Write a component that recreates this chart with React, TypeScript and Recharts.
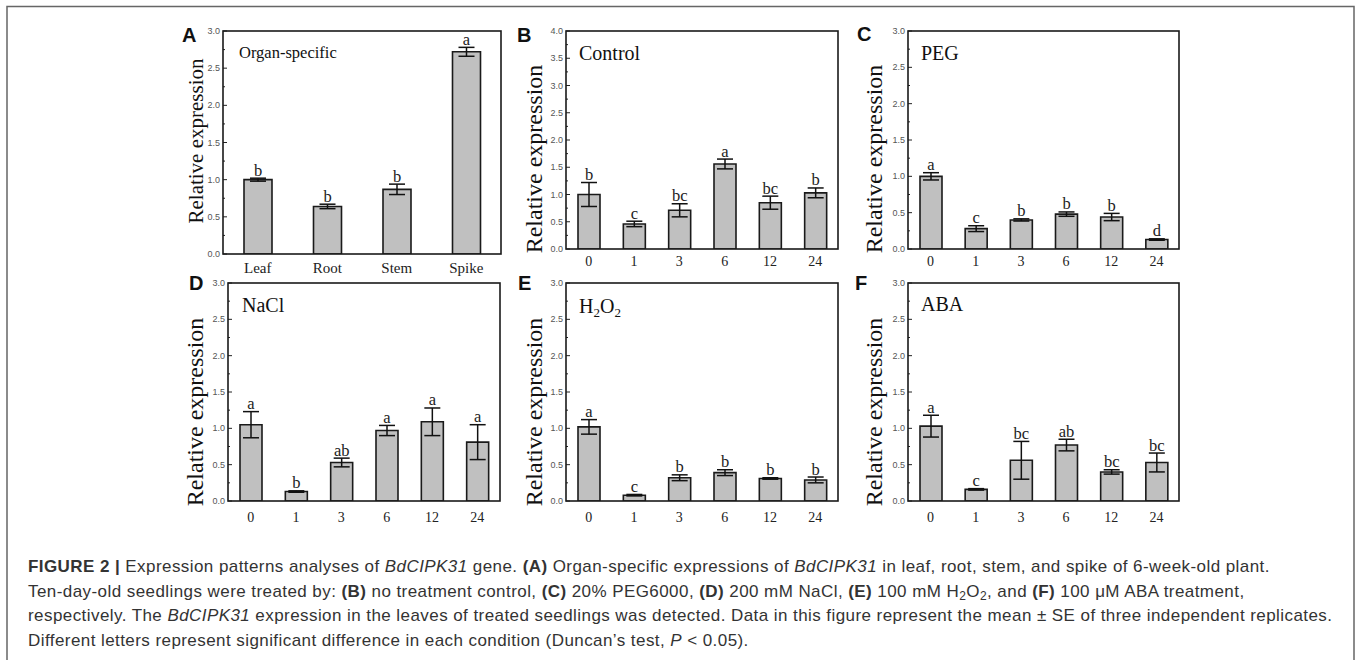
import React from "react";
import { BarChart, Bar, XAxis, YAxis, ErrorBar, LabelList } from "recharts";

if (typeof document !== "undefined") document.body.style.margin = "0";

const SERIF = '"Liberation Serif", "Times New Roman", serif';
const SANS = '"Liberation Sans", Arial, sans-serif';

// A: organ-specific
const organs = ["Leaf", "Root", "Stem", "Spike"];
const organMean = [1.0, 0.64, 0.87, 2.72];
const organErr = [0.02, 0.03, 0.07, 0.06];
const organSig = ["b", "b", "b", "a"];

// B-F: hours after treatment
const hours = ["0", "1", "3", "6", "12", "24"];

const controlMean = [1.0, 0.46, 0.71, 1.56, 0.85, 1.03];
const controlErr = [0.22, 0.05, 0.12, 0.09, 0.12, 0.09];
const controlSig = ["b", "c", "bc", "a", "bc", "b"];

const pegMean = [1.0, 0.28, 0.4, 0.48, 0.44, 0.13];
const pegErr = [0.05, 0.04, 0.015, 0.03, 0.05, 0.01];
const pegSig = ["a", "c", "b", "b", "b", "d"];

const naclMean = [1.05, 0.13, 0.53, 0.97, 1.09, 0.81];
const naclErr = [0.18, 0.01, 0.06, 0.07, 0.19, 0.24];
const naclSig = ["a", "b", "ab", "a", "a", "a"];

const h2o2Mean = [1.02, 0.08, 0.32, 0.39, 0.31, 0.29];
const h2o2Err = [0.1, 0.01, 0.04, 0.04, 0.01, 0.04];
const h2o2Sig = ["a", "c", "b", "b", "b", "b"];

const abaMean = [1.03, 0.16, 0.56, 0.77, 0.4, 0.53];
const abaErr = [0.15, 0.01, 0.26, 0.08, 0.03, 0.13];
const abaSig = ["a", "c", "bc", "ab", "bc", "bc"];

const ticks3 = [0, 0.5, 1, 1.5, 2, 2.5, 3];
const ticks4 = [0, 0.5, 1, 1.5, 2, 2.5, 3, 3.5, 4];

type PanelDef = {
  id: string;
  cats: string[];
  mean: number[];
  err: number[];
  sig: string[];
  majors: number[];
  box: { x: number; y: number; w: number; h: number };
  barSize: number;
  catFont: number;
  catDy: number;
  yTitle: { x: number; y: number; fs: number };
  letter: { x: number; y: number };
  titlePos: { x: number; y: number; fs: number };
};

const panels: PanelDef[] = [
  { id: "A", cats: organs, mean: organMean, err: organErr, sig: organSig, majors: ticks3,
    box: { x: 223, y: 31, w: 278, h: 223 }, barSize: 28, catFont: 15, catDy: 19,
    yTitle: { x: 203, y: 141, fs: 21 }, letter: { x: 182, y: 42 }, titlePos: { x: 239, y: 58, fs: 16.5 } },
  { id: "B", cats: hours, mean: controlMean, err: controlErr, sig: controlSig, majors: ticks4,
    box: { x: 566, y: 31, w: 272, h: 218 }, barSize: 22, catFont: 14, catDy: 17,
    yTitle: { x: 542, y: 159, fs: 24 }, letter: { x: 517, y: 42 }, titlePos: { x: 579, y: 60, fs: 20 } },
  { id: "C", cats: hours, mean: pegMean, err: pegErr, sig: pegSig, majors: ticks3,
    box: { x: 908, y: 31, w: 271, h: 218 }, barSize: 22, catFont: 14, catDy: 17,
    yTitle: { x: 882, y: 159, fs: 24 }, letter: { x: 857, y: 41 }, titlePos: { x: 921, y: 60, fs: 20 } },
  { id: "D", cats: hours, mean: naclMean, err: naclErr, sig: naclSig, majors: ticks3,
    box: { x: 228, y: 283, w: 272, h: 218 }, barSize: 22, catFont: 14, catDy: 21,
    yTitle: { x: 203, y: 412, fs: 24 }, letter: { x: 189, y: 290 }, titlePos: { x: 242, y: 312, fs: 20 } },
  { id: "E", cats: hours, mean: h2o2Mean, err: h2o2Err, sig: h2o2Sig, majors: ticks3,
    box: { x: 566, y: 283, w: 272, h: 218 }, barSize: 22, catFont: 14, catDy: 21,
    yTitle: { x: 542, y: 412, fs: 24 }, letter: { x: 518, y: 290 }, titlePos: { x: 579, y: 313, fs: 20 } },
  { id: "F", cats: hours, mean: abaMean, err: abaErr, sig: abaSig, majors: ticks3,
    box: { x: 908, y: 283, w: 271, h: 218 }, barSize: 22, catFont: 14, catDy: 21,
    yTitle: { x: 882, y: 412, fs: 24 }, letter: { x: 855, y: 290 }, titlePos: { x: 921, y: 311, fs: 20 } },
];

function withMinors(majors: number[]) {
  const out: number[] = [];
  majors.forEach((m, i) => {
    out.push(m);
    if (i < majors.length - 1) out.push((m + majors[i + 1]) / 2);
  });
  return out;
}

function Panel({ p }: { p: PanelDef }) {
  const data = p.cats.map((c, i) => ({ cat: c, mean: p.mean[i], err: p.err[i], sig: p.sig[i] }));
  const yMax = p.majors[p.majors.length - 1];
  const { box } = p;

  const yTick = (t: any) => {
    const v = t.payload.value;
    const major = p.majors.includes(v);
    return (
      <g>
        <line x1={t.x} x2={t.x + (major ? 4 : 2)} y1={t.y} y2={t.y} stroke="#222" strokeWidth={1} />
        {major && (
          <text x={t.x - 3} y={t.y} dy="0.35em" textAnchor="end" fontFamily={SANS} fontSize={9} fill="#555">
            {v.toFixed(1)}
          </text>
        )}
      </g>
    );
  };

  const xTick = (t: any) => (
    <text x={t.x} y={t.y + p.catDy} textAnchor="middle" fontFamily={SERIF} fontSize={p.catFont} fill="#222">
      {t.payload.value}
    </text>
  );

  const sigLabel = (l: any) => {
    const i = l.index ?? 0;
    const x = Number(l.x), y = Number(l.y), w = Number(l.width), h = Number(l.height);
    const top = y - p.err[i] * (h / p.mean[i]);
    return (
      <text x={x + w / 2} y={top - 2.5} textAnchor="middle" fontFamily={SERIF} fontSize={16.5} fill="#222">
        {l.value}
      </text>
    );
  };

  return (
    <div style={{ position: "absolute", left: box.x - 60, top: box.y - 10 }}>
      <BarChart width={box.w + 70} height={box.h + 50} data={data} margin={{ top: 10, right: 10, left: 0, bottom: 0 }}>
        <XAxis dataKey="cat" height={40} tickSize={0} tickMargin={0} axisLine={false} interval={0} tick={xTick} />
        <YAxis
          width={60}
          type="number"
          domain={[0, yMax]}
          ticks={withMinors(p.majors)}
          interval={0}
          allowDataOverflow
          tickSize={0}
          tickMargin={0}
          axisLine={false}
          tick={yTick}
        />
        <Bar dataKey="mean" fill="#c0c0c0" stroke="#1a1a1a" strokeWidth={1.6} barSize={p.barSize} isAnimationActive={false}>
          <ErrorBar dataKey="err" width={8} stroke="#111" strokeWidth={1.5} isAnimationActive={false} />
          <LabelList dataKey="sig" content={sigLabel} />
        </Bar>
      </BarChart>
    </div>
  );
}

function Title({ p }: { p: PanelDef }) {
  const { x, y, fs } = p.titlePos;
  const common = { x, y, fontFamily: SERIF, fontSize: fs, fill: "#111" };
  if (p.id === "A") return <text {...common}>Organ-specific</text>;
  if (p.id === "B") return <text {...common}>Control</text>;
  if (p.id === "C") return <text {...common}>PEG</text>;
  if (p.id === "D") return <text {...common}>NaCl</text>;
  if (p.id === "F") return <text {...common}>ABA</text>;
  return (
    <text {...common}>
      H<tspan fontSize={13} dy={4}>2</tspan>
      <tspan dy={-4}>O</tspan>
      <tspan fontSize={13} dy={4}>2</tspan>
    </text>
  );
}

const sub = { fontSize: 12, lineHeight: 0, verticalAlign: "-3px" } as const;

export default function App() {
  return (
    <div style={{ position: "relative", width: 1357, height: 660, background: "#fff", overflow: "hidden" }}>
      {panels.map((p) => (
        <Panel key={p.id} p={p} />
      ))}
      <svg width={1357} height={660} style={{ position: "absolute", left: 0, top: 0, pointerEvents: "none" }}>
        <polyline points="7,670 7,6.5 1354,6.5 1354,670" fill="none" stroke="#666" strokeWidth={1.5} />
        {panels.map((p) => (
          <g key={p.id}>
            <rect x={p.box.x} y={p.box.y} width={p.box.w} height={p.box.h} fill="none" stroke="#1a1a1a" strokeWidth={1.6} />
            <text x={p.letter.x} y={p.letter.y} fontFamily={SANS} fontWeight="bold" fontSize={20} fill="#111">
              {p.id}
            </text>
            <Title p={p} />
            <text
              x={p.yTitle.x}
              y={p.yTitle.y}
              transform={`rotate(-90 ${p.yTitle.x} ${p.yTitle.y})`}
              textAnchor="middle"
              fontFamily={SERIF}
              fontSize={p.yTitle.fs}
              fill="#111"
            >
              Relative expression
            </text>
          </g>
        ))}
      </svg>
      <div
        style={{
          position: "absolute",
          left: 28,
          top: 555,
          fontFamily: SANS,
          fontSize: 17,
          letterSpacing: "0.43px",
          lineHeight: "24.5px",
          color: "#333",
          whiteSpace: "nowrap",
        }}
      >
        <b>FIGURE 2 |</b> Expression patterns analyses of <i>BdCIPK31</i> gene. <b>(A)</b> Organ-specific expressions of{" "}
        <i>BdCIPK31</i> in leaf, root, stem, and spike of 6-week-old plant.
        <br />
        Ten-day-old seedlings were treated by: <b>(B)</b> no treatment control, <b>(C)</b> 20% PEG6000, <b>(D)</b> 200 mM NaCl,{" "}
        <b>(E)</b> 100 mM H<sub style={sub}>2</sub>O<sub style={sub}>2</sub>, and <b>(F)</b> 100 μM ABA treatment,
        <br />
        respectively. The <i>BdCIPK31</i> expression in the leaves of treated seedlings was detected. Data in this figure represent
        the mean ± SE of three independent replicates.
        <br />
        Different letters represent significant difference in each condition (Duncan’s test, <i>P</i> &lt; 0.05).
      </div>
    </div>
  );
}
